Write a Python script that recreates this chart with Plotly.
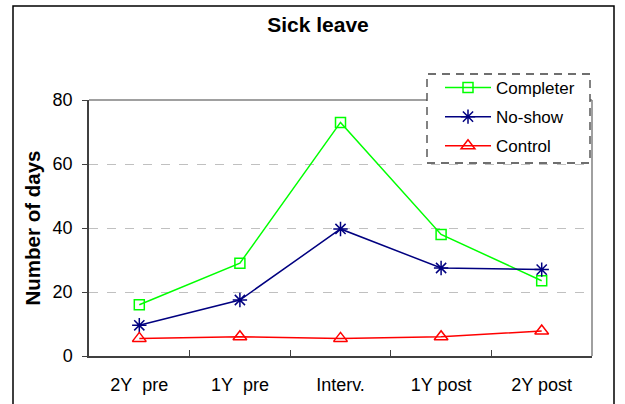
import plotly.graph_objects as go

categories = ["2Y\u00a0 pre", "1Y\u00a0 pre", "Interv.", "1Y post", "2Y post"]
completer = [16, 29, 73, 38, 23.5]
no_show = [9.6, 17.5, 39.7, 27.5, 27]
control = [5.5, 6, 5.5, 6, 7.8]

L, R, T, B = 89, 592, 100, 356
W, H = 625, 404
pw, ph = R - L, B - T

def px(x):
    return (x - L) / pw

def py(y):
    return (B - y) / ph

fig = go.Figure()
fig.add_trace(go.Scatter(x=categories, y=completer, name="Completer", mode="lines+markers",
                         line=dict(color="#00FF00", width=1.5), legendgroup="a",
                         marker=dict(symbol="square-open", size=10, color="#00FF00", line=dict(width=1.5))))
fig.add_trace(go.Scatter(x=categories, y=no_show, name="No-show", mode="lines+markers",
                         line=dict(color="#000080", width=1.5), legendgroup="b",
                         marker=dict(symbol="asterisk-open", size=12, color="#000080", line=dict(width=1.5, color="#000080"))))
fig.add_trace(go.Scatter(x=categories, y=control, name="Control", mode="lines+markers",
                         line=dict(color="#FF0000", width=1.5), legendgroup="c",
                         marker=dict(symbol="triangle-up-open", size=12, color="#FF0000", line=dict(width=1.5))))

shapes = [
    # outer frame
    dict(type="rect", xref="paper", yref="paper", x0=px(13), x1=px(614), y0=py(420), y1=py(6),
         line=dict(color="black", width=1.5), fillcolor="rgba(0,0,0,0)", layer="below"),
    # top and right border
    dict(type="line", xref="paper", yref="paper", x0=0, x1=1, y0=1, y1=1,
         line=dict(color="#808080", width=1.5)),
    dict(type="line", xref="paper", yref="paper", x0=1, x1=1, y0=0, y1=1,
         line=dict(color="#808080", width=1.5)),
    # legend box
    dict(type="rect", xref="paper", yref="paper", x0=px(427), x1=px(590), y0=py(163), y1=py(74),
         line=dict(color="#404040", width=1.3, dash="8px,6px"), fillcolor="white", layer="above"),
]

fig.update_layout(
    width=W, height=H,
    margin=dict(l=L, r=W - R, t=T, b=H - B, autoexpand=False),
    paper_bgcolor="white", plot_bgcolor="white",
    font=dict(family="Liberation Sans, Arial, sans-serif", size=16, color="black"),
    title=dict(text="<b>Sick leave</b>", x=(318) / W, xanchor="center", y=1 - 25 / H, yanchor="middle",
               font=dict(size=21)),
    showlegend=True,
    legend=dict(x=px(440), y=py(70), xanchor="left", yanchor="top", bgcolor="rgba(0,0,0,0)",
                font=dict(size=17), tracegroupgap=4, borderwidth=0, itemwidth=46),
    shapes=shapes,
)
fig.update_xaxes(type="category", range=[-0.5, 4.5], showline=True, linecolor="#404040", linewidth=1.5,
                 ticks="inside", tickson="boundaries", ticklen=6, tickcolor="#404040", showgrid=False,
                 tickfont=dict(size=18), ticklabelstandoff=12, automargin=False)
fig.update_yaxes(range=[0, 80], dtick=20, showline=True, linecolor="#404040", linewidth=1.5,
                 ticks="outside", ticklen=5, tickcolor="#404040", showgrid=True,
                 gridcolor="#C0C0C0", griddash="dash", gridwidth=1, zeroline=False,
                 tickfont=dict(size=18), ticklabelstandoff=6, automargin=False,
                 title=dict(text="<b>Number of days</b>", font=dict(size=20.5), standoff=6))

fig.write_html("out.html", config={"displayModeBar": False},
               post_script="document.body.style.margin='0';document.body.style.padding='0';")
